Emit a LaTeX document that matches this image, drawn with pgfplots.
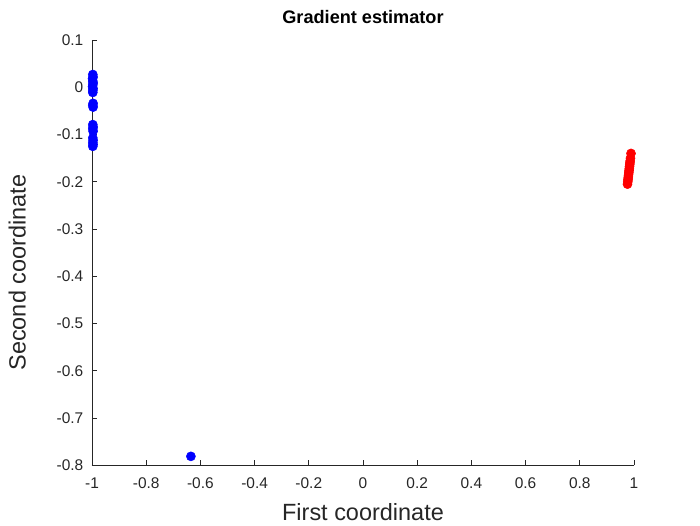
\documentclass[border=0pt]{standalone}
\usepackage{pgfplots}
\pgfplotsset{compat=1.18}
\usepackage{fontspec}
\setmainfont{Liberation Sans}
\definecolor{mgray}{rgb}{0.15,0.15,0.15}
\begin{document}
\begin{tikzpicture}
\useasboundingbox (-69pt,-45pt) rectangle (456pt,349pt);
\begin{axis}[
  at={(0,0)}, anchor=south west,
  scale only axis, width=406.5pt, height=319pt,
  xmin=-1, xmax=1, ymin=-0.8, ymax=0.1,
  axis x line*=bottom, axis y line*=left,
  axis line style={mgray, -},
  tick style={mgray, line width=0.5pt},
  tick align=inside, major tick length=3.75pt,
  xtick={-1,-0.8,...,1.01}, ytick={-0.8,-0.7,...,0.11},
  xticklabels={-1,-0.8,-0.6,-0.4,-0.2,0,0.2,0.4,0.6,0.8,1},
  yticklabels={-0.8,-0.7,-0.6,-0.5,-0.4,-0.3,-0.2,-0.1,0,0.1},
  ticklabel style={font=\fontsize{11.6}{13}\selectfont, text=mgray},
  xticklabel style={yshift=-6pt},
  yticklabel style={xshift=-3pt},
  xlabel={First coordinate}, ylabel={Second coordinate},
  xlabel style={font=\fontsize{17.6}{20}\selectfont, text=mgray, at={(axis description cs:0.5,0)}, anchor=center, yshift=-35pt},
  ylabel style={font=\fontsize{17.6}{20}\selectfont, text=mgray, at={(axis description cs:0,0.5)}, rotate=0, anchor=center, yshift=56pt, xshift=-15pt},
  title={Gradient estimator},
  title style={font=\fontsize{13.6}{15}\selectfont\bfseries, at={(axis description cs:0.5,1)}, anchor=center, yshift=11pt},
  clip=false,
]
\addplot[only marks, mark=*, mark size=3.4pt, color=blue, mark options={fill=blue, draw=blue}] coordinates {
(-0.997,0.027)(-0.996,0.022)(-0.998,0.018)(-0.997,0.013)(-0.996,0.009)(-0.997,0.005)(-0.998,0.001)(-0.996,-0.003)(-0.997,-0.007)(-0.997,-0.011)
(-0.996,-0.034)(-0.997,-0.038)(-0.996,-0.042)
(-0.997,-0.079)(-0.996,-0.084)(-0.997,-0.088)(-0.996,-0.093)(-0.997,-0.107)(-0.996,-0.112)(-0.997,-0.117)(-0.996,-0.121)(-0.997,-0.125)
(-0.635,-0.781)
};
\addplot[only marks, mark=*, mark size=3.4pt, color=red, mark options={fill=red, draw=red}] coordinates {
(0.976,-0.205)(0.977,-0.200)(0.9778,-0.196)(0.9786,-0.192)(0.9794,-0.188)(0.9802,-0.184)(0.981,-0.180)(0.9818,-0.176)(0.9826,-0.172)(0.9834,-0.168)(0.9842,-0.164)(0.985,-0.160)(0.9858,-0.156)(0.987,-0.150)(0.989,-0.140)
};
\end{axis}
\end{tikzpicture}
\end{document}
